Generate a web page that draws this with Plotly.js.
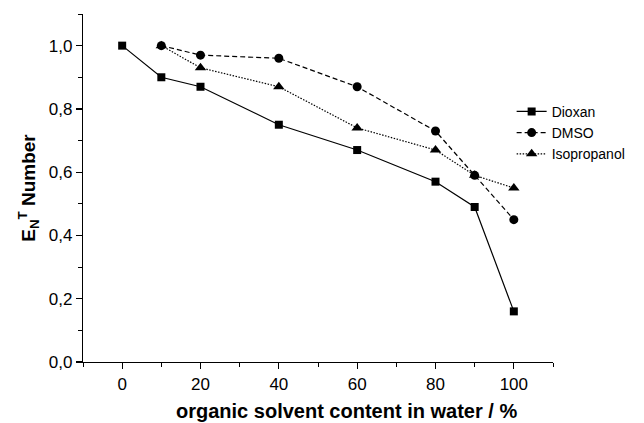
<!DOCTYPE html>
<html><head><meta charset="utf-8">
<script src="https://cdn.plot.ly/plotly-3.0.1.min.js"></script>
<style>html,body{margin:0;padding:0;background:#fff;}#c{width:644px;height:423px;}</style>
</head><body><div id="c"></div>
<script>
const dioxanX = [0, 10, 20, 40, 60, 80, 90, 100];
const dioxanY = [1.00, 0.90, 0.87, 0.75, 0.67, 0.57, 0.49, 0.16];
const dmsoX = [10, 20, 40, 60, 80, 90, 100];
const dmsoY = [1.00, 0.97, 0.96, 0.87, 0.73, 0.59, 0.45];
const isoX = [10, 20, 40, 60, 80, 90, 100];
const isoY = [1.00, 0.93, 0.87, 0.74, 0.67, 0.59, 0.55];
const names = ['Dioxan', 'DMSO', 'Isopropanol'];
const xTitle = 'organic solvent content in water / %';
const yTitle = 'E<sub>N</sub><sup>T</sup> Number';

const F = 'Liberation Sans, Arial, sans-serif';
const traces = [
  {x: dioxanX, y: dioxanY, name: names[0], mode: 'lines+markers',
   line: {color: '#000', width: 1.2, dash: 'solid'}, marker: {symbol: 'square', size: 8, color: '#000'}},
  {x: dmsoX, y: dmsoY, name: names[1], mode: 'lines+markers',
   line: {color: '#000', width: 1.2, dash: '5px,3px'}, marker: {symbol: 'circle', size: 9, color: '#000'}},
  {x: isoX, y: isoY, name: names[2], mode: 'lines+markers',
   line: {color: '#000', width: 1.2, dash: '1.5px,1.5px'}, marker: {symbol: 'triangle-up', size: 10, color: '#000'}}
];
const layout = {
  width: 644, height: 423,
  margin: {l: 83, r: 91, t: 14, b: 61},
  paper_bgcolor: '#fff', plot_bgcolor: '#fff',
  separators: ',.',
  font: {family: F, size: 14, color: '#000'},
  showlegend: true,
  legend: {x: 0.912, y: 0.765, xanchor: 'left', yanchor: 'top', bgcolor: 'rgba(0,0,0,0)',
           font: {family: F, size: 14}, itemwidth: 30},
  xaxis: {range: [-10, 110], tickvals: [0, 20, 40, 60, 80, 100], showgrid: false, zeroline: false,
          showline: true, linecolor: '#000', linewidth: 1.2, ticks: 'outside', ticklen: 6, tickwidth: 1.2, tickcolor: '#000',
          minor: {tickvals: [-10, 10, 30, 50, 70, 90, 110], ticks: 'outside', ticklen: 4, tickwidth: 1, tickcolor: '#000', showgrid: false},
          tickfont: {family: F, size: 17}},
  yaxis: {range: [0, 1.1], tickvals: [0, 0.2, 0.4, 0.6, 0.8, 1.0], tickformat: '.1f', showgrid: false, zeroline: false,
          showline: true, linecolor: '#000', linewidth: 1.2, ticks: 'outside', ticklen: 6, tickwidth: 1.2, tickcolor: '#000',
          minor: {tickvals: [0.1, 0.3, 0.5, 0.7, 0.9, 1.1], ticks: 'outside', ticklen: 4, tickwidth: 1, tickcolor: '#000', showgrid: false},
          tickfont: {family: F, size: 17},
          title: {text: '<b>' + yTitle + '</b>', font: {family: F, size: 19}, standoff: 8}},
  annotations: [{text: '<b>' + xTitle + '</b>', xref: 'paper', yref: 'paper', x: 0.561, y: -0.14,
                 xanchor: 'center', yanchor: 'middle', showarrow: false, font: {family: F, size: 20}}]
};
Plotly.newPlot('c', traces, layout, {displayModeBar: false, staticPlot: true});
</script></body></html>
